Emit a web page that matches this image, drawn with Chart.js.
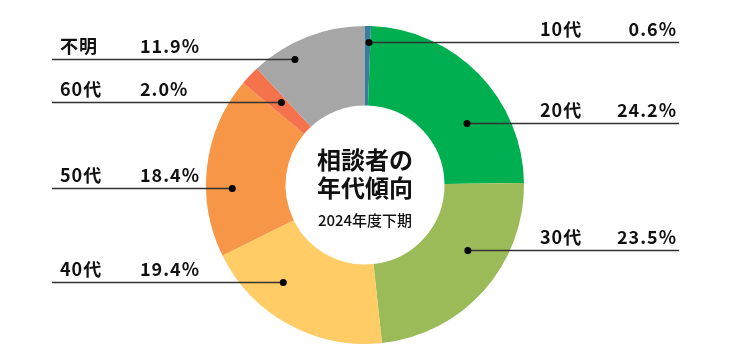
<!DOCTYPE html>
<html>
<head>
<meta charset="utf-8">
<script src="https://cdn.jsdelivr.net/npm/chart.js@4"></script>
<style>
  html, body { margin: 0; padding: 0; background: #fff; }
  #wrap { width: 736px; height: 360px; }
</style>
</head>
<body>
<div id="wrap"><canvas id="myChart" width="736" height="360"></canvas></div>
<script>
// data
const ageLabels = ['10代', '20代', '30代', '40代', '50代', '60代', '不明'];
const shares = [0.6, 24.2, 23.5, 19.4, 18.4, 2.0, 11.9];
const shareText = ['0.6%', '24.2%', '23.5%', '19.4%', '18.4%', '2.0%', '11.9%'];
const sliceColors = ['#3b7ca3', '#00b050', '#9bbb59', '#ffcc66', '#f79646', '#f4734c', '#a6a6a6'];
const centerTitle = ['相談者の', '年代傾向'];
const centerSub = '2024年度下期';

// where the dot sits inside each slice: fraction along the arc, fraction across the ring
const dotAt = [
    [0.74, 0.8], [0.65, 0.5], [0.39, 0.53], [0.66, 0.6],
    [0.38, 0.67], [0.66, 0.48], [0.32, 0.81]
];

const font = '"Noto Sans CJK JP", "Noto Sans", sans-serif';

const calloutPlugin = {
    id: 'callouts',
    afterDraw(chart) {
        const ctx = chart.ctx;
        const meta = chart.getDatasetMeta(0);
        meta.data.forEach((arc, i) => {
            const p = arc.getProps(['x', 'y', 'startAngle', 'endAngle', 'innerRadius', 'outerRadius'], true);
            const a = p.startAngle + (p.endAngle - p.startAngle) * dotAt[i][0];
            const r = p.innerRadius + (p.outerRadius - p.innerRadius) * dotAt[i][1];
            const dx = p.x + Math.cos(a) * r;
            const dy = Math.round(p.y + Math.sin(a) * r) + 0.5;
            const right = Math.cos(a) > 0;

            ctx.save();
            ctx.strokeStyle = '#333';
            ctx.lineWidth = 1.3;
            ctx.beginPath();
            ctx.moveTo(dx, dy);
            ctx.lineTo(right ? 679 : 52, dy);
            ctx.stroke();
            ctx.fillStyle = '#000';
            ctx.beginPath();
            ctx.arc(dx, dy, 3.5, 0, Math.PI * 2);
            ctx.fill();

            ctx.font = 'bold 18px ' + font;
            ctx.letterSpacing = '1px';
            ctx.textBaseline = 'middle';
            ctx.fillStyle = '#111';
            if (right) {
                ctx.textAlign = 'left';
                ctx.fillText(ageLabels[i], 540, dy - 13);
                ctx.textAlign = 'right';
                ctx.fillText(shareText[i], 677, dy - 13);
            } else {
                ctx.textAlign = 'left';
                ctx.fillText(ageLabels[i], 60, dy - 13);
                ctx.fillText(shareText[i], 140, dy - 13);
            }
            ctx.restore();
        });

        // centre caption
        const c = meta.data[0];
        ctx.save();
        ctx.textAlign = 'center';
        ctx.textBaseline = 'middle';
        ctx.fillStyle = '#111';
        ctx.font = 'bold 24px ' + font;
        ctx.fillText(centerTitle[0], c.x, c.y - 25);
        ctx.fillText(centerTitle[1], c.x, c.y + 3);
        ctx.font = '500 15px ' + font;
        ctx.fillText(centerSub, c.x, c.y + 35);
        ctx.restore();
    }
};

var ctx = document.getElementById('myChart').getContext('2d');
var chart = new Chart(ctx, {
    type: 'doughnut',
    data: {
        labels: ageLabels,
        datasets: [{
            data: shares,
            backgroundColor: sliceColors,
            borderWidth: 0
        }]
    },
    options: {
        responsive: false,
        animation: false,
        cutout: '50%',
        layout: { padding: { top: 26, bottom: 16, left: 0, right: 6 } },
        plugins: {
            legend: { display: false },
            tooltip: { enabled: false }
        }
    },
    plugins: [calloutPlugin]
});
</script>
</body>
</html>
